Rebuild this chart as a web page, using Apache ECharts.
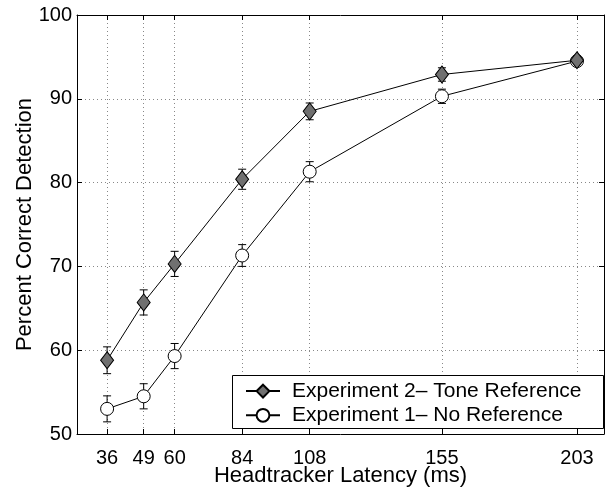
<!DOCTYPE html>
<html style="height: 100%">
    <head>
        <title>Detection vs Latency</title>
        <script type="text/javascript" src="https://fastly.jsdelivr.net/npm/echarts@6.0.0/dist/echarts.min.js"></script>
    </head>
    <body style="height: 100%; margin: 0; background: #fff">
        <div id="target" style="width: 606px; height: 487px"></div>

<script type="text/javascript">
// headtracker latency (ms)
let latency = [36, 49, 60, 84, 108, 155, 203];

// Experiment 2 - tone reference
let exp2Mean = [58.8, 65.7, 70.3, 80.4, 88.5, 92.9, 94.6];
let exp2Err = [1.6, 1.5, 1.5, 1.2, 1.0, 0.8, 0.5];

// Experiment 1 - no reference
let exp1Mean = [53.0, 54.5, 59.3, 71.3, 81.3, 90.3, 94.5];
let exp1Err = [1.55, 1.5, 1.5, 1.3, 1.2, 0.85, 0.5];

let chart = echarts.init(document.getElementById('target'));
let font = "'Liberation Sans', Arial, Helvetica, sans-serif";

let Pairs = (ys) => latency.map((x, i) => [x, ys[i]]);
let ErrRows = (ys, es) => latency.map((x, i) => [x, ys[i] - es[i], ys[i] + es[i]]);

// vertical error bar with small caps
let RenderErr = (params, api) => {
    let lo = api.coord([api.value(0), api.value(1)]);
    let hi = api.coord([api.value(0), api.value(2)]);
    let cap = 4;
    let style = { stroke: '#000', lineWidth: 1 };
    return {
        type: 'group',
        children: [
            { type: 'line', shape: { x1: lo[0], y1: lo[1], x2: hi[0], y2: hi[1] }, style: style },
            { type: 'line', shape: { x1: lo[0] - cap, y1: lo[1], x2: lo[0] + cap, y2: lo[1] }, style: style },
            { type: 'line', shape: { x1: hi[0] - cap, y1: hi[1], x2: hi[0] + cap, y2: hi[1] }, style: style },
        ],
    };
};

let gridLine = { show: true, lineStyle: { color: '#888', type: [1, 3], width: 1 } };
let axisLine = { show: true, onZero: false, lineStyle: { color: '#000', width: 1 } };

let option = {
    animation: false,
    textStyle: { fontFamily: font },
    grid: { left: 77, right: 2, top: 15, bottom: 53, outerBoundsMode: 'none', containLabel: false },
    // legend frame (legend items are laid out on top of it)
    graphic: [
        {
            type: 'rect',
            left: 232,
            top: 375,
            shape: { width: 371, height: 53 },
            style: { fill: '#fff', stroke: '#000', lineWidth: 1 },
            z: 10,
        },
    ],
    xAxis: [
        {
            type: 'value',
            min: 25.3,
            max: 212.6,
            name: 'Headtracker Latency (ms)',
            nameLocation: 'middle',
            nameGap: 23,
            nameMoveOverlap: false,
            nameTextStyle: { fontSize: 22, color: '#000', fontFamily: font },
            axisLine: axisLine,
            axisTick: { show: true, inside: true, length: 5, customValues: latency, lineStyle: { color: '#000' } },
            axisLabel: { customValues: latency, fontSize: 20, color: '#000', margin: 7, fontFamily: font },
            splitLine: gridLine,
        },
        {
            type: 'value',
            position: 'top',
            min: 25.3,
            max: 212.6,
            axisLine: axisLine,
            axisTick: { show: true, inside: true, length: 5, customValues: latency, lineStyle: { color: '#000' } },
            axisLabel: { show: false, customValues: latency },
            splitLine: { show: false },
        },
    ],
    yAxis: [
        {
            type: 'value',
            min: 50,
            max: 100,
            interval: 10,
            name: 'Percent Correct Detection',
            nameLocation: 'middle',
            nameGap: 33,
            nameMoveOverlap: false,
            nameTextStyle: { fontSize: 22, color: '#000', fontFamily: font },
            axisLine: axisLine,
            axisTick: { show: true, inside: true, length: 5, lineStyle: { color: '#000' } },
            axisLabel: { fontSize: 20, color: '#000', margin: 5, fontFamily: font },
            splitLine: gridLine,
        },
        {
            type: 'value',
            position: 'right',
            min: 50,
            max: 100,
            interval: 10,
            axisLine: axisLine,
            axisTick: { show: true, inside: true, length: 5, lineStyle: { color: '#000' } },
            axisLabel: { show: false },
            splitLine: { show: false },
        },
    ],
    legend: {
        data: ['Experiment 2\u2013 Tone Reference', 'Experiment 1\u2013 No Reference'],
        orient: 'vertical',
        left: 245,
        top: 373,
        padding: 0,
        itemGap: -12,
        itemWidth: 34,
        itemHeight: 16,
        z: 20,
        textStyle: { fontSize: 21, color: '#000', fontFamily: font, padding: [0, 0, 0, 7] },
    },
    series: [
        {
            type: 'custom',
            renderItem: RenderErr,
            data: ErrRows(exp1Mean, exp1Err),
            encode: { x: 0, y: [1, 2] },
            z: 1,
            silent: true,
        },
        {
            type: 'custom',
            renderItem: RenderErr,
            data: ErrRows(exp2Mean, exp2Err),
            encode: { x: 0, y: [1, 2] },
            z: 1,
            silent: true,
        },
        {
            name: 'Experiment 1\u2013 No Reference',
            type: 'line',
            data: Pairs(exp1Mean),
            symbol: 'circle',
            symbolSize: 13,
            showAllSymbol: true,
            lineStyle: { color: '#000', width: 1 },
            itemStyle: { color: '#fff', borderColor: '#000', borderWidth: 1 },
            z: 3,
        },
        {
            name: 'Experiment 2\u2013 Tone Reference',
            type: 'line',
            data: Pairs(exp2Mean),
            symbol: 'diamond',
            symbolSize: [13, 17],
            showAllSymbol: true,
            lineStyle: { color: '#000', width: 1 },
            itemStyle: { color: '#707070', borderColor: '#000', borderWidth: 1 },
            z: 4,
        },
    ],
};

chart.setOption(option);
</script>
    </body>
</html>
